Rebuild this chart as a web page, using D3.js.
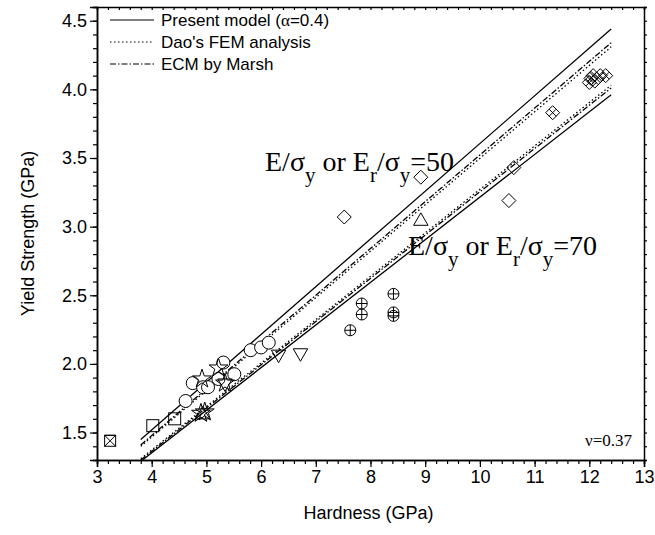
<!DOCTYPE html>
<html>
<head>
<meta charset="utf-8">
<script src="https://cdn.jsdelivr.net/npm/d3@7"></script>
<style>
  body { margin: 0; background: #fff; overflow: hidden; }
  svg { display: block; }
  text { fill: #000; }
</style>
</head>
<body>
<svg width="655" height="535" id="mainsvg"></svg>
<script>
// data: [hardness, yield strength]
const lineH = [3.8, 12.4];
const present50 = [1.45, 4.44];
const dao50 = [1.40, 4.31];
const ecm50 = [1.41, 4.34];
const present70 = [1.29, 3.96];
const dao70 = [1.31, 4.03];
const ecm70 = [1.30, 4.01];

const squares = [[4.02, 1.55], [4.42, 1.60]];
const crossSquares = [[3.24, 1.44]];
const circles = [[4.62, 1.73], [4.75, 1.86], [4.94, 1.83], [5.03, 1.83], [5.22, 1.89],
                 [5.31, 2.01], [5.51, 1.925], [5.81, 2.10], [6.00, 2.12], [6.14, 2.155]];
const stars = [[4.92, 1.89], [5.22, 1.97], [4.90, 1.64], [4.97, 1.65], [5.34, 1.86]];
const upTriangles = [[8.92, 3.04], [4.93, 1.63]];
const downTriangles = [[5.34, 1.86], [6.32, 2.07], [6.72, 2.08]];
const crossCircles = [[7.63, 2.245], [7.84, 2.44], [7.84, 2.36], [8.42, 2.51], [8.42, 2.375], [8.42, 2.35]];
const diamonds = [[7.52, 3.07], [8.92, 3.36], [10.53, 3.19], [10.62, 3.43]];
const crossDiamonds = [[11.33, 3.83], [12.0, 4.05], [12.03, 4.08], [12.07, 4.10], [12.1, 4.06], [12.2, 4.10], [12.3, 4.10]];

const xMajorTicks = [3, 4, 5, 6, 7, 8, 9, 10, 11, 12, 13];
const yMajorTicks = [1.5, 2.0, 2.5, 3.0, 3.5, 4.0, 4.5];
const legendItems = ['Present model (', "Dao's FEM analysis", 'ECM by Marsh'];

const svg = d3.select('#mainsvg');
const margin = { top: 7, right: 11, bottom: 75, left: 97 };
const width = +svg.attr('width'), height = +svg.attr('height');
const innerWidth = width - margin.left - margin.right;
const innerHeight = height - margin.top - margin.bottom;
const g = svg.append('g').attr('transform', `translate(${margin.left},${margin.top})`);

const xScale = d3.scaleLinear().domain([3, 13]).range([0, innerWidth]);
const yScale = d3.scaleLinear().domain([1.3, 4.6]).range([innerHeight, 0]);

svg.append('clipPath').attr('id', 'clip').append('rect')
  .attr('width', innerWidth).attr('height', innerHeight);

const sans = 'Liberation Sans, Arial, sans-serif';
const serif = 'Liberation Serif, Times New Roman, serif';

// axes (minor ticks every 0.2 on x, 0.1 on y)
const xMinorTicks = d3.range(30, 131, 2).map(d => d / 10);
const yMinorTicks = d3.range(13, 47).map(d => d / 10);

const addAxis = (axis, tr, keepText) => {
  const a = g.append('g').attr('transform', tr).call(axis);
  a.selectAll('path').attr('stroke', '#000').attr('stroke-width', 1.5);
  a.selectAll('line').attr('stroke', '#000').attr('stroke-width', 1.2);
  if (keepText) a.selectAll('text').attr('font-family', sans).attr('font-size', 18).attr('fill', '#000');
  else a.selectAll('text').remove();
  return a;
};
addAxis(d3.axisBottom(xScale).tickValues(xMinorTicks).tickSize(4), `translate(0,${innerHeight})`);
addAxis(d3.axisBottom(xScale).tickValues(xMajorTicks).tickSize(7).tickPadding(3).tickFormat(d3.format('d')),
  `translate(0,${innerHeight})`, true);
addAxis(d3.axisLeft(yScale).tickValues(yMinorTicks).tickSize(4), 'translate(0,0)');
addAxis(d3.axisLeft(yScale).tickValues(yMajorTicks).tickSize(7).tickPadding(3).tickFormat(d3.format('.1f')),
  'translate(0,0)', true);
// mirrored ticks on top and right
addAxis(d3.axisTop(xScale).tickValues(xMinorTicks).tickSize(-3), 'translate(0,0)');
addAxis(d3.axisRight(yScale).tickValues(yMinorTicks).tickSize(3), `translate(${innerWidth},0)`);

// axis titles
svg.append('text').attr('x', margin.left + innerWidth / 2 - 2).attr('y', 519)
  .attr('text-anchor', 'middle').attr('font-family', sans).attr('font-size', 18).text('Hardness (GPa)');
svg.append('text').attr('transform', `translate(34,${margin.top + innerHeight / 2}) rotate(-90)`)
  .attr('text-anchor', 'middle').attr('font-family', sans).attr('font-size', 18).text('Yield Strength (GPa)');

// model lines
const plot = g.append('g').attr('clip-path', 'url(#clip)');
const lineGen = d3.line().x(d => xScale(d[0])).y(d => yScale(d[1]));
const styles = { solid: null, dot: '1.5,2.5', dashdot: '6,2,1.5,2' };
[[present50, 'solid'], [present70, 'solid'], [dao50, 'dot'], [dao70, 'dot'], [ecm50, 'dashdot'], [ecm70, 'dashdot']]
  .forEach(([ys, st]) => {
    plot.append('path').datum(lineH.map((h, i) => [h, ys[i]]))
      .attr('d', lineGen).attr('fill', 'none').attr('stroke', '#000')
      .attr('stroke-width', 1.3).attr('stroke-dasharray', styles[st]);
  });

// markers
const marks = g.append('g').attr('fill', 'none').attr('stroke', '#000').attr('stroke-width', 1);
const place = (data, draw) => data.forEach(d => {
  const m = marks.append('g').attr('transform', `translate(${xScale(d[0])},${yScale(d[1])})`);
  draw(m);
});
place(squares, m => m.append('rect').attr('x', -6).attr('y', -6).attr('width', 12).attr('height', 12));
place(crossSquares, m => {
  m.append('rect').attr('x', -5.5).attr('y', -5.5).attr('width', 11).attr('height', 11);
  m.append('path').attr('d', 'M-5.5,-5.5L5.5,5.5M5.5,-5.5L-5.5,5.5M-5.5,-5.5L5.5,-5.5');
});
place(circles, m => m.append('circle').attr('r', 6.5).attr('fill', '#fff'));
place(stars, m => m.append('path').attr('d', d3.symbol(d3.symbolStar, 110)()));
place(upTriangles, m => m.append('path').attr('d', d3.symbol(d3.symbolTriangle, 90)()));
place(downTriangles, m => m.append('path').attr('transform', 'rotate(180)').attr('d', d3.symbol(d3.symbolTriangle, 90)()));
place(crossCircles, m => {
  m.append('circle').attr('r', 5.5);
  m.append('path').attr('d', 'M-5.5,0H5.5M0,-5.5V5.5');
});
place(diamonds, m => m.append('path').attr('d', 'M0,-7L7,0L0,7L-7,0Z'));
place(crossDiamonds, m => {
  m.append('path').attr('d', 'M0,-7L7,0L0,7L-7,0Z');
  m.append('path').attr('d', 'M-3.5,-3.5L3.5,3.5M3.5,-3.5L-3.5,3.5');
});

// legend
const legend = svg.append('g');
const legendY = [20, 42, 64];
const legendDash = [null, '1.5,2.5', '6,2,1.5,2'];
legendItems.forEach((t, i) => {
  legend.append('line').attr('x1', 110).attr('x2', 154).attr('y1', legendY[i]).attr('y2', legendY[i])
    .attr('stroke', '#000').attr('stroke-width', 1.2).attr('stroke-dasharray', legendDash[i]);
  const tx = legend.append('text').attr('x', 161).attr('y', legendY[i] + 6)
    .attr('font-family', sans).attr('font-size', 17).text(t);
  if (i === 0) {
    tx.append('tspan').attr('font-family', serif).text('α');
    tx.append('tspan').text('=0.4)');
  }
});

// annotations
const annot = (x, y, val) => {
  const t = svg.append('text').attr('x', x).attr('y', y).attr('font-family', serif).attr('font-size', 28);
  t.append('tspan').text('E/σ');
  t.append('tspan').attr('font-size', 21).attr('dy', 11).text('y');
  t.append('tspan').attr('dy', -11).text(' or E');
  t.append('tspan').attr('font-size', 21).attr('dy', 11).text('r');
  t.append('tspan').attr('dy', -11).text('/σ');
  t.append('tspan').attr('font-size', 21).attr('dy', 11).text('y');
  t.append('tspan').attr('dy', -11).text('=' + val);
};
annot(265, 171, 50);
annot(408, 255, 70);

svg.append('text').attr('x', 632).attr('y', 446).attr('text-anchor', 'end')
  .attr('font-family', serif).attr('font-size', 17).text('ν=0.37');
</script>
</body>
</html>
